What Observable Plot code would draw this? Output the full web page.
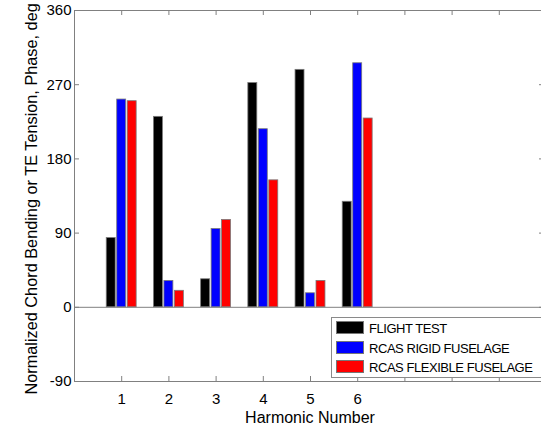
<!DOCTYPE html>
<html><head><meta charset="utf-8">
<script src="https://cdn.jsdelivr.net/npm/d3@7"></script>
<script src="https://cdn.jsdelivr.net/npm/@observablehq/plot@0.6"></script>
<style>
body{margin:0;background:#fff;font-family:"Liberation Sans",Arial,sans-serif;}
#wrap{position:relative;width:541px;height:425px;overflow:hidden;}
#legend{position:absolute;left:331px;top:317px;width:212px;height:61px;border:1px solid #8a8a8a;background:#fff;box-sizing:border-box;}
.sw{position:absolute;left:4px;width:28px;height:13px;border:1px solid #777;box-sizing:border-box;}
.lt{position:absolute;left:37px;font-size:13px;letter-spacing:-0.45px;line-height:13px;color:#000;white-space:nowrap;}
</style></head><body><div id="wrap"></div>
<script>
const harmonics = [1, 2, 3, 4, 5, 6];
const seriesNames = ["FLIGHT TEST", "RCAS RIGID FUSELAGE", "RCAS FLEXIBLE FUSELAGE"];
const seriesColors = ["#000000", "#0000ff", "#ff0000"];
const flightTest = [84, 231, 34, 272, 288, 128];
const rcasRigid = [252, 32, 95, 216, 17, 296];
const rcasFlexible = [250, 20, 106, 154, 32, 229];
const xTickMarks = [1, 2, 3, 4, 5, 6, 7, 8, 9];
const xTickLabels = [1, 2, 3, 4, 5, 6];
const yTicks = [-90, 0, 90, 180, 270, 360];
const xLabel = "Harmonic Number";
const yLabel = "Normalized Chord Bending or TE Tension, Phase, deg";

const seriesValues = [flightTest, rcasRigid, rcasFlexible];
const offsets = [-0.222, 0, 0.222];
const barW = 0.19;
const bars = [];
seriesValues.forEach((vals, s) => vals.forEach((v, i) => bars.push({
  h: harmonics[i], s, value: v,
  x1: harmonics[i] + offsets[s] - barW / 2,
  x2: harmonics[i] + offsets[s] + barW / 2
})));

const W = 541, H = 425, mL = 74, mT = 10, mB = 44, mR = 0;
const frameW = W - mL - mR, frameH = H - mT - mB;
const gray = "#808080";

const chart = Plot.plot({
  width: W, height: H,
  marginLeft: mL, marginRight: mR, marginTop: mT, marginBottom: mB,
  style: {fontFamily: "'Liberation Sans', Arial, sans-serif", fontSize: "15px", background: "#fff", color: "#000"},
  x: {domain: [0, 10], range: [74, 546]},
  y: {domain: [-90, 360], range: [H - mB, mT]},
  marks: [
    Plot.ruleY([0], {stroke: gray, strokeWidth: 1}),
    Plot.rect(bars, {x1: "x1", x2: "x2", y1: 0, y2: "value", fill: d => seriesColors[d.s], stroke: "#7a7a7a", strokeWidth: 0.8}),
    Plot.ruleX([0], {stroke: gray}),
    Plot.ruleY([-90, 360], {stroke: gray}),
    Plot.tickX(xTickMarks, {x: d => d, insetTop: frameH - 5, stroke: gray}),
    Plot.tickX(xTickMarks, {x: d => d, insetBottom: frameH - 5, stroke: gray}),
    Plot.tickY(yTicks, {y: d => d, insetRight: frameW - 5, stroke: gray}),
    Plot.tickY(yTicks, {y: d => d, insetLeft: frameW - 2, stroke: gray}),
    Plot.axisY({ticks: yTicks, tickSize: 0, tickPadding: 3, label: null, fontSize: 15, tickFormat: d => String(d)}),
    Plot.axisX({ticks: xTickLabels, tickSize: 0, tickPadding: 12, label: null, fontSize: 15, tickFormat: d => String(d)}),
    Plot.text([xLabel], {frameAnchor: "bottom", lineAnchor: "middle", dx: 2, dy: 36, fontSize: 16, fill: "#000"}),
    Plot.text([yLabel], {frameAnchor: "bottom-left", lineAnchor: "middle", rotate: -90, textAnchor: "start", dx: -43, dy: 13, fontSize: 16.3, fill: "#000"})
  ]
});
const wrap = document.getElementById("wrap");
wrap.appendChild(chart);

const legend = document.createElement("div");
legend.id = "legend";
const rowTops = [3, 22.5, 41.5];
seriesNames.forEach((name, i) => {
  const sw = document.createElement("div");
  sw.className = "sw";
  sw.style.top = rowTops[i] + "px";
  sw.style.background = seriesColors[i];
  legend.appendChild(sw);
  const t = document.createElement("div");
  t.className = "lt";
  t.style.top = (rowTops[i] + 1) + "px";
  t.textContent = name;
  legend.appendChild(t);
});
wrap.appendChild(legend);
</script>
</body></html>
